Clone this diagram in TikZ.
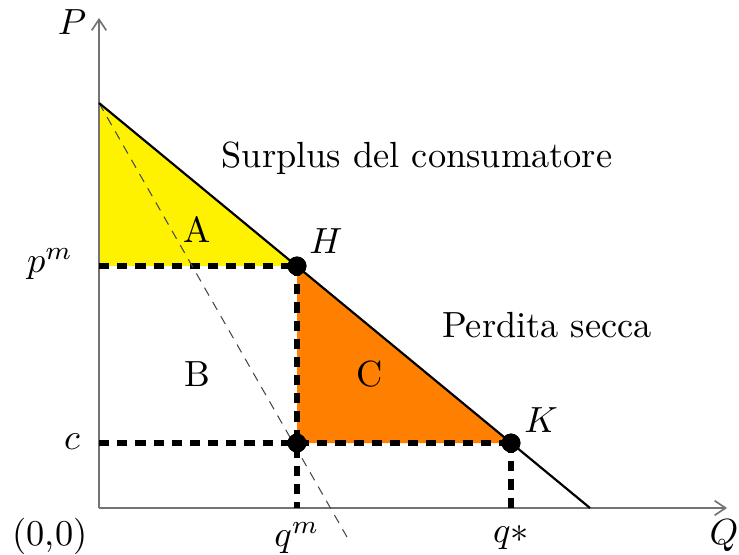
\documentclass[tikz,border=0pt]{standalone}
\usetikzlibrary{arrows.meta}
\begin{document}
\begin{tikzpicture}[x=0.275pt,y=-0.275pt,
  axis/.style={draw=black!55,line width=0.45pt,-{Straight Barb[length=3pt,width=4pt]}},
  demand/.style={draw=black,line width=0.6pt},
  mr/.style={draw=black!70,line width=0.3pt,dash pattern=on 2.5pt off 2pt},
  guide/.style={draw=black,line width=1.4pt,dash pattern=on 2.8pt off 2.2pt},
  dot/.style={circle,fill=black,inner sep=0pt,minimum size=5.2pt},
  lbl/.style={inner sep=0pt}]
\useasboundingbox (0,0) rectangle (739,555);
% key points
\coordinate (O) at (99,508);
\coordinate (Ytop) at (99,18);
\coordinate (Xend) at (727,508);
\coordinate (D0) at (99,103);
\coordinate (Pm) at (99,266);
\coordinate (Cy) at (99,443);
\coordinate (Dend) at (590,508);
\coordinate (Qm) at (297,508);
\coordinate (Qs) at (511,508);
\coordinate (MRend) at (347,537);
\node[dot] (H) at (297,266) {};
\node[dot] (K) at (511,443) {};
\node[dot] (M) at (297,443) {};
% areas
\fill[yellow] (D0) -- (H.center) -- (Pm) -- cycle;
\fill[orange] (H.center) -- (K.center) -- (M.center) -- cycle;
% axes
\draw[axis] (O) -- (Ytop);
\draw[axis] (O) -- (Xend);
% guides
\draw[guide] (Pm) -- (H.center);
\draw[guide] (H.center) -- (Qm);
\draw[guide] (Cy) -- (K.center);
\draw[guide] (K.center) -- (Qs);
% MR
\draw[mr] (D0) -- (MRend);
% demand
\draw[demand] (D0) -- (Dend);
% redraw dots on top
\node[dot] at (H) {};
\node[dot] at (K) {};
\node[dot] at (M) {};
% labels
\node[lbl] (lP) at (72,22) {$P$};
\node[lbl] (lQ) at (724,536) {$Q$};
\node[lbl] (l00) at (50,536) {(0,0)};
\node[lbl] (lpm) at (50,264) {$p^m$};
\node[lbl] (lc) at (72,442) {$c$};
\node[lbl] (lqm) at (297,538) {$q^m$};
\node[lbl] (lqs) at (511,538) {$q*$};
\node[lbl] (lH) at (326,241) {$H$};
\node[lbl] (lK) at (541,420) {$K$};
\node[lbl] (lA) at (197,229) {A};
\node[lbl] (lB) at (197,374) {B};
\node[lbl] (lC) at (370,374) {C};
\node[lbl] (lS) at (417,158) {Surplus del consumatore};
\node[lbl] (lD) at (547,325) {Perdita secca};
\end{tikzpicture}
\end{document}
